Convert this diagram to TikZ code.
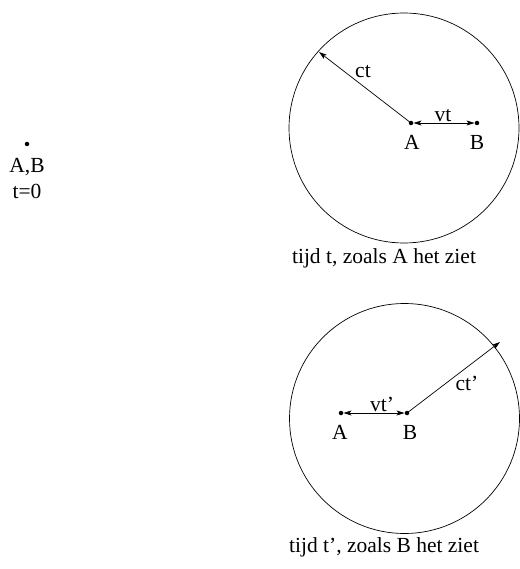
\documentclass[tikz,border=0pt]{standalone}
\usepackage{fontspec}
\setmainfont{Liberation Serif}
\usetikzlibrary{arrows.meta}
\begin{document}
\begin{tikzpicture}[x=1pt,y=-1pt,
  every node/.style={font=\fontsize{21.5}{26}\selectfont},
  lbl/.style={inner sep=0pt,anchor=base},
  dotpt/.style={circle,fill=black,inner sep=0pt,minimum size=4.5pt},
  arr/.style={line width=0.7pt,-{Stealth[length=8pt,width=5pt,inset=2pt]}},
  darr/.style={line width=0.7pt,{Stealth[length=8pt,width=5pt,inset=2pt]}-{Stealth[length=8pt,width=5pt,inset=2pt]}},
  circ/.style={line width=0.7pt}]
\useasboundingbox (0,0) rectangle (519,569);
% left
\node[dotpt] (O) at (27,144) {};
\node[lbl] (labAB) at (27,173) {A,B};
\node[lbl] (labt0) at (27,198) {t=0};
% top
\draw[circ] (404,128) circle (115);
\node[dotpt] (A1) at (411,123) {};
\node[dotpt] (B1) at (477,123) {};
\coordinate (C1) at (319,52);
\draw[arr] (A1.center) -- (C1);
\draw[darr] (A1) -- (B1);
\node[lbl] (vt1) at (443,122) {vt};
\node[lbl] (ct1) at (363,78) {ct};
\node[lbl] (la1) at (412,150) {A};
\node[lbl] (lb1) at (477,150) {B};
\node[lbl] (cap1) at (384,263) {tijd t, zoals A het ziet};
% bottom
\draw[circ] (404.5,418.5) circle (115);
\node[dotpt] (A2) at (341,413) {};
\node[dotpt] (B2) at (407,413) {};
\coordinate (C2) at (500,342);
\draw[arr] (B2.center) -- (C2);
\draw[darr] (A2) -- (B2);
\node[lbl] (vt2) at (382,411) {vt'};
\node[lbl] (ct2) at (467,390) {ct'};
\node[lbl] (la2) at (340,439) {A};
\node[lbl] (lb2) at (410,439) {B};
\node[lbl] (cap2) at (384,552) {tijd t', zoals B het ziet};
\end{tikzpicture}
\end{document}
